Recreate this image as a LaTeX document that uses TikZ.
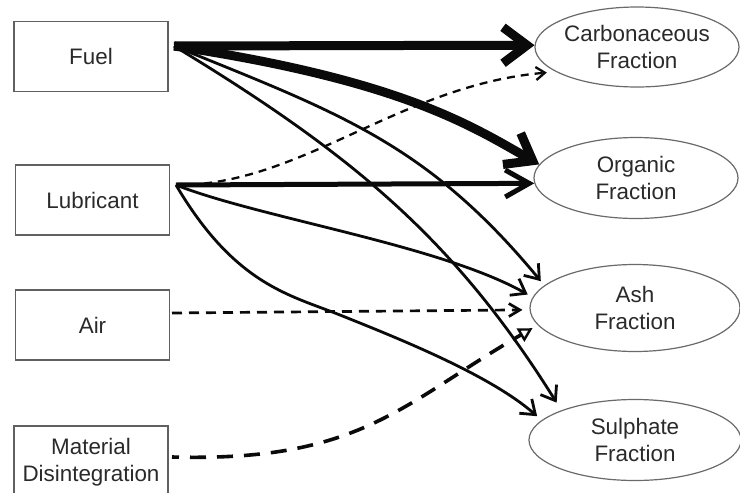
\documentclass[tikz,border=0pt]{standalone}
\usepackage{fontspec}
\setmainfont{Liberation Sans}
\usetikzlibrary{shapes.geometric,arrows.meta}
\definecolor{boxgray}{HTML}{606060}
\definecolor{ellgray}{HTML}{6A6A6A}
\definecolor{txt}{HTML}{2A2A2A}
\definecolor{ink}{HTML}{0A0A0A}
\begin{document}
\begin{tikzpicture}[x=1pt,y=-1pt,
  lbl/.style={text=txt, align=center, font=\fontsize{22.4}{27}\selectfont, inner sep=0pt},
  srcbox/.style={lbl, draw=boxgray, line width=1.6pt, fill=white,
    minimum width=154pt, minimum height=70pt},
  frac/.style={ellipse, draw=ellgray, line width=1.2pt, inner sep=0pt},
  thickline/.style={draw=ink, line width=9pt, -{Straight Barb[length=24pt,width=36pt]}},
  medline/.style={draw=ink, line width=5pt, -{Straight Barb[length=24pt,width=27pt]}},
  thinline/.style={draw=ink, line width=2.8pt, -{Straight Barb[length=13pt,width=19pt]}},
  dashA/.style={draw=ink, line width=2.3pt, dash pattern=on 8pt off 6pt, -{Straight Barb[length=9pt,width=13pt]}},
  dashB/.style={draw=ink, line width=2.7pt, dash pattern=on 10pt off 7pt, -{Straight Barb[length=11pt,width=13pt]}},
  dashC/.style={draw=ink, line width=3.6pt, dash pattern=on 16pt off 11pt, dash phase=9pt, -{Triangle[open,length=14pt,width=15pt,line width=2.4pt]}}
]
\useasboundingbox (0,0) rectangle (740,493);
\clip (0,0) rectangle (740,493);
\fill[white] (0,0) rectangle (740,493);

% source boxes
\node[srcbox] (fuel) at (91,56.5) {Fuel};
\node[srcbox] (lub) at (92.5,200) {Lubricant};
\node[srcbox] (air) at (92.5,325) {Air};
\node[srcbox, minimum height=72pt] (mat) at (91,462) {Material\\Disintegration};

% fractions
\node[frac, minimum width=204pt, minimum height=80pt] (carb) at (637,47) {};
\node[lbl] (carbT) at (carb) {Carbonaceous\\Fraction};
\node[frac, minimum width=204pt, minimum height=81pt] (organic) at (636,178) {};
\node[lbl] (organicT) at (organic) {Organic\\Fraction};
\node[frac, minimum width=210pt, minimum height=87pt] (ash) at (635,308) {};
\node[lbl] (ashT) at (ash) {Ash\\Fraction};
\node[frac, minimum width=212pt, minimum height=81pt] (sulph) at (635,440) {};
\node[lbl] (sulphT) at (sulph) {Sulphate\\Fraction};

% connector start points
\coordinate (fuelout) at (174,46);
\coordinate (lubout) at (176,185);
\coordinate (airout) at (172,313);
\coordinate (matout) at (172,457);

% fuel
\draw[thickline] (fuelout) -- (carb.179);
\draw[thickline] (fuelout) .. controls (400,80) and (470,125) .. (organic.172);
\draw[thinline, shorten >=5.5pt] (fuelout) .. controls (339,113) and (427,143.5) .. (ash.166);
\draw[thinline, shorten >=9pt] (fuelout) .. controls (357,157) and (456,242) .. (sulph.158);

% lubricant
\draw[medline] (lubout) -- (organic.183);
\draw[dashA, shorten >=9pt] (lubout) .. controls (300,186) and (400,85) .. (carb.197);
\draw[thinline, shorten >=5.6pt] (lubout) .. controls (260,218) and (440,245) .. (ash.174);
\draw[thinline, shorten >=6pt] (lubout) .. controls (235,285) and (290,295) .. (340,315)
   .. controls (400,339) and (490,375) .. (sulph.168);

% air
\draw[dashB, shorten >=7pt] (airout) -- (ash.181);

% material disintegration
\draw[dashC, shorten >=6pt] (matout) .. controls (360,462) and (400,405) .. (ash.190);
\end{tikzpicture}
\end{document}
